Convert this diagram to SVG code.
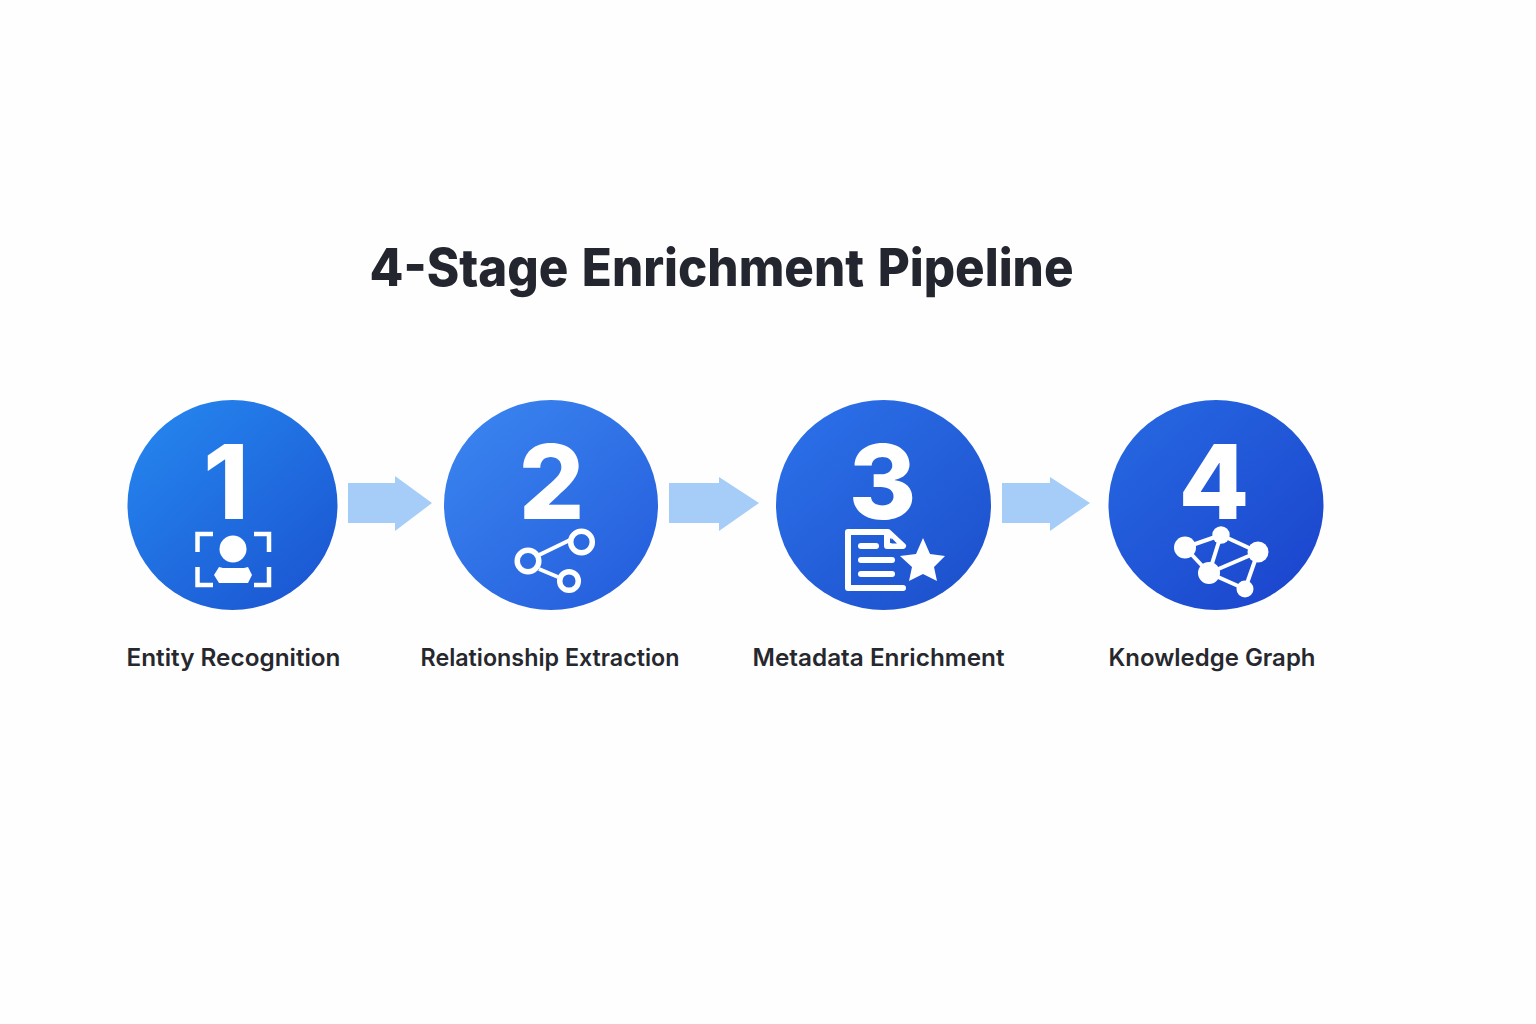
<svg xmlns="http://www.w3.org/2000/svg" width="1536" height="1024" viewBox="0 0 1536 1024">
<style>
.title{font:800 52px Inter,"Liberation Sans",sans-serif;fill:#23262e;word-spacing:3px}
.label{font:600 24px Inter,"Liberation Sans",sans-serif;fill:#26282e}
.num{font:800 103px Inter,"Liberation Sans",sans-serif;fill:#fff;text-anchor:middle}
.arrow{fill:#a6cdf7}
.w{fill:#fff}
.s{fill:none;stroke:#fff;stroke-width:5}
.l{stroke:#fff;stroke-width:4}
</style>
<defs>
<linearGradient id="g1" x1="0.1" y1="0.05" x2="0.9" y2="0.95"><stop offset="0" stop-color="#2585ee"/><stop offset="1" stop-color="#1b56d2"/></linearGradient>
<linearGradient id="g2" x1="0.1" y1="0.05" x2="0.9" y2="0.95"><stop offset="0" stop-color="#3a84f0"/><stop offset="1" stop-color="#255edc"/></linearGradient>
<linearGradient id="g3" x1="0.1" y1="0.05" x2="0.9" y2="0.95"><stop offset="0" stop-color="#2b70e8"/><stop offset="1" stop-color="#1d50cd"/></linearGradient>
<linearGradient id="g4" x1="0.1" y1="0.05" x2="0.9" y2="0.95"><stop offset="0" stop-color="#2667e1"/><stop offset="1" stop-color="#1b45cd"/></linearGradient>
</defs>
<rect width="1536" height="1024" fill="#fefefe"/>
<text id="title" class="title" x="369.500" y="286" textLength="704" lengthAdjust="spacingAndGlyphs">4-Stage Enrichment Pipeline</text>
<g id="connectors">
<polygon class="arrow" points="348,483 395,483 395,476 432,503 395,531 395,523 348,523"/>
<polygon class="arrow" points="669,483 719,483 719,477 759,503 719,531 719,523 669,523"/>
<polygon class="arrow" points="1002,483 1050,483 1050,477 1090,503 1050,531 1050,523 1002,523"/>
</g>
<g id="node1">
<ellipse cx="232.500" cy="505" rx="105" ry="105" fill="url(#g1)"/>
<text class="num" x="226" y="519">1</text>
<path class="s" style="stroke-width:4.500" d="M197.500 552V534H213M269 552V534H254M197.500 567V585H213M269 567V585H254"/>
<circle class="w" cx="233" cy="549" r="13.500"/>
<polygon class="w" points="219,567 223,568 244,568 248,567 252,575 248,583 219,583 214,575"/>
<text class="label" x="126.500" y="665.500" textLength="214" lengthAdjust="spacingAndGlyphs">Entity Recognition</text>
</g>
<g id="node2">
<ellipse cx="551" cy="505" rx="107" ry="105" fill="url(#g2)"/>
<text class="num" x="551.500" y="519">2</text>
<line class="l" x1="539" y1="555" x2="570" y2="540"/>
<line class="l" x1="539" y1="569" x2="558" y2="577"/>
<g class="s" style="stroke-width:5.500">
<circle cx="528" cy="561" r="10.800"/>
<circle cx="581.500" cy="542" r="10.800"/>
<circle cx="569" cy="581" r="9.300"/>
</g>
<text class="label" x="420.500" y="665.500" textLength="259" lengthAdjust="spacingAndGlyphs">Relationship Extraction</text>
</g>
<g id="node3">
<ellipse cx="883.500" cy="505" rx="107.500" ry="105" fill="url(#g3)"/>
<text class="num" x="882.500" y="519">3</text>
<path class="s" style="stroke-width:6;stroke-linejoin:round;stroke-linecap:round" d="M903 588H848V532H888L903 546H887V533"/>
<polygon points="891.500,538 897,543.500 891.500,543.500" fill="#2158d6"/>
<rect class="w" x="858" y="543" width="21" height="6" rx="3"/>
<rect class="w" x="858" y="557" width="37" height="6" rx="3"/>
<rect class="w" x="858" y="571" width="37" height="6" rx="3"/>
<polygon class="w" points="923,538 930,554 945,556 934,567 937,581 923,574 909,581 912,567 900,556 916,554"/>
<text class="label" x="752.500" y="665.500" textLength="252" lengthAdjust="spacingAndGlyphs">Metadata Enrichment</text>
</g>
<g id="node4">
<ellipse cx="1216" cy="505" rx="107.500" ry="105" fill="url(#g4)"/>
<text class="num" x="1214" y="519">4</text>
<line class="l" x1="1185" y1="547.500" x2="1221" y2="535"/>
<line class="l" x1="1185" y1="547.500" x2="1209" y2="573"/>
<line class="l" x1="1221" y1="535" x2="1258" y2="552"/>
<line class="l" x1="1221" y1="535" x2="1209" y2="573"/>
<line class="l" x1="1258" y1="552" x2="1209" y2="573"/>
<line class="l" x1="1258" y1="552" x2="1245" y2="589"/>
<line class="l" x1="1209" y1="573" x2="1245" y2="589"/>
<circle class="w" cx="1185" cy="547.500" r="11"/>
<circle class="w" cx="1221" cy="535" r="8.700"/>
<circle class="w" cx="1258" cy="552" r="10.500"/>
<circle class="w" cx="1209" cy="573" r="11"/>
<circle class="w" cx="1245" cy="589" r="8.500"/>
<text class="label" x="1108.500" y="665.500" textLength="207" lengthAdjust="spacingAndGlyphs">Knowledge Graph</text>
</g>
</svg>
